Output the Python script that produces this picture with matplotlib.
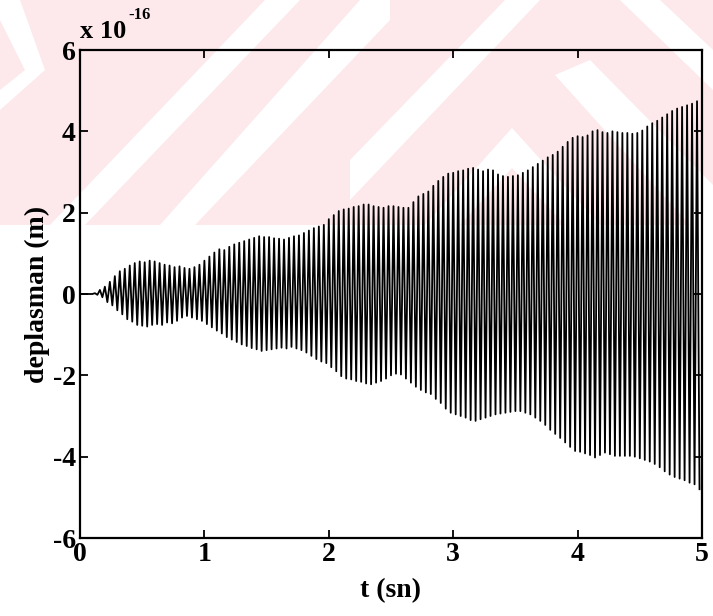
import matplotlib
matplotlib.use("Agg")
import matplotlib.pyplot as plt
import matplotlib.patches as mpatches
import numpy as np

# ── Response peaks, one pair per cycle (units of 1e-16 m) ─────────────────────
T_START = 0.12   # s, first cycle
PERIOD = 0.04    # s, oscillation period

upper = [
    0.02, 0.10, 0.18, 0.30, 0.44, 0.56, 0.62, 0.70, 0.76, 0.80,
    0.78, 0.82, 0.80, 0.76, 0.72, 0.70, 0.66, 0.68, 0.64, 0.62,
    0.66, 0.72, 0.82, 0.92, 1.02, 1.10, 1.08, 1.16, 1.22, 1.26,
    1.30, 1.34, 1.38, 1.42, 1.40, 1.40, 1.37, 1.36, 1.34, 1.38,
    1.42, 1.44, 1.50, 1.56, 1.62, 1.66, 1.70, 1.84, 1.94, 2.04,
    2.08, 2.10, 2.14, 2.16, 2.20, 2.20, 2.16, 2.14, 2.12, 2.16,
    2.16, 2.14, 2.12, 2.12, 2.26, 2.40, 2.46, 2.52, 2.66, 2.78,
    2.88, 2.96, 2.98, 3.02, 3.04, 3.08, 3.10, 3.06, 3.02, 3.06,
    3.04, 2.94, 2.90, 2.88, 2.90, 2.92, 2.98, 3.04, 3.12, 3.20,
    3.28, 3.36, 3.42, 3.50, 3.62, 3.74, 3.84, 3.88, 3.86, 3.90,
    4.00, 4.03, 3.98, 3.96, 4.00, 3.98, 3.96, 3.96, 3.94, 3.96,
    4.02, 4.12, 4.20, 4.26, 4.34, 4.42, 4.50, 4.56, 4.60, 4.64,
    4.68, 4.74,
]
lower = [
    -0.02, -0.08, -0.20, -0.28, -0.40, -0.50, -0.62, -0.68, -0.76, -0.78,
    -0.80, -0.76, -0.74, -0.76, -0.70, -0.72, -0.66, -0.58, -0.54, -0.58,
    -0.62, -0.66, -0.74, -0.82, -0.90, -0.97, -1.06, -1.12, -1.18, -1.24,
    -1.28, -1.33, -1.36, -1.40, -1.38, -1.36, -1.34, -1.32, -1.34, -1.30,
    -1.34, -1.38, -1.44, -1.52, -1.60, -1.66, -1.70, -1.80, -1.90, -2.02,
    -2.08, -2.10, -2.14, -2.16, -2.20, -2.22, -2.18, -2.14, -2.08, -2.00,
    -1.96, -1.98, -2.08, -2.18, -2.28, -2.36, -2.42, -2.46, -2.58, -2.68,
    -2.82, -2.92, -2.96, -3.00, -3.04, -3.10, -3.12, -3.08, -3.04, -3.00,
    -2.96, -2.94, -2.92, -2.90, -2.88, -2.88, -2.92, -2.96, -3.04, -3.12,
    -3.22, -3.34, -3.44, -3.54, -3.65, -3.76, -3.86, -3.88, -3.92, -3.96,
    -4.02, -3.96, -3.90, -3.94, -3.98, -3.98, -3.98, -3.98, -4.00, -4.04,
    -4.08, -4.12, -4.18, -4.26, -4.36, -4.44, -4.50, -4.54, -4.58, -4.64,
    -4.68, -4.80,
]

x_ticks = [0, 1, 2, 3, 4, 5]
y_ticks = [-6, -4, -2, 0, 2, 4, 6]

PINK = "#fde9ec"
W, H = 713, 616
SERIF = "Liberation Serif"

# zigzag: peak at each cycle start, trough half a period later
n = len(upper)
t_peak = T_START + PERIOD * np.arange(n)
t = np.concatenate([[0.0, T_START - PERIOD / 2],
                    np.column_stack([t_peak, t_peak + PERIOD / 2]).ravel()])
y = np.concatenate([[0.0, 0.0],
                    np.column_stack([upper, lower]).ravel()])

fig = plt.figure(figsize=(W / 100, H / 100), dpi=100, facecolor="white")

# faint background stamp across the top of the page
bg = fig.add_axes([0, 0, 1, 1], zorder=-10)
bg.set_xlim(0, W)
bg.set_ylim(H, 0)
bg.axis("off")
bg.add_patch(mpatches.Rectangle((0, 0), W, 225, color=PINK, lw=0))
bands = [
    [(0, 0), (20, 0), (45, 70), (0, 110), (0, 90), (25, 70), (0, 20)],
    [(50, 225), (85, 225), (300, 0), (265, 0)],
    [(160, 225), (195, 225), (390, 20), (390, -10), (360, 0)],
    [(350, 200), (350, 160), (505, 0), (540, 0)],
    [(425, 225), (512, 128), (600, 225), (565, 225), (512, 168), (460, 225)],
    [(555, 75), (590, 60), (713, 185), (713, 225), (690, 225)],
    [(620, 0), (660, 0), (713, 50), (713, 90)],
]
for pts in bands:
    bg.add_patch(mpatches.Polygon(pts, closed=True, color="white", lw=0))

ax = fig.add_axes([80 / W, 1 - 538 / H, 622 / W, 488 / H])
ax.set_facecolor("none")
ax.plot(t, y, color="black", linewidth=1.3)

ax.set_xlim(0, 5)
ax.set_ylim(-6, 6)
ax.set_xticks(x_ticks)
ax.set_yticks(y_ticks)
ax.set_xticklabels([str(v) for v in x_ticks])
ax.set_yticklabels([str(v) for v in y_ticks])

for lbl in ax.get_xticklabels() + ax.get_yticklabels():
    lbl.set_fontfamily(SERIF)
    lbl.set_fontsize(20)
    lbl.set_fontweight("bold")
ax.tick_params(direction="in", length=6, width=1.3, top=True, right=True,
               pad=3)
for spine in ax.spines.values():
    spine.set_linewidth(1.6)

ax.set_xlabel("t (sn)", labelpad=8, fontfamily=SERIF, fontsize=20,
              fontweight="bold")
ax.set_ylabel("deplasman (m)", labelpad=2, fontfamily=SERIF, fontsize=20,
              fontweight="bold")
ax.text(0.0, 1.014, "x 10", transform=ax.transAxes, ha="left", va="bottom",
        fontfamily=SERIF, fontsize=19, fontweight="bold")
ax.text(0.077, 1.056, "-16", transform=ax.transAxes, ha="left", va="bottom",
        fontfamily=SERIF, fontsize=12, fontweight="bold")

fig.savefig("out.png", dpi=100, facecolor="white")
